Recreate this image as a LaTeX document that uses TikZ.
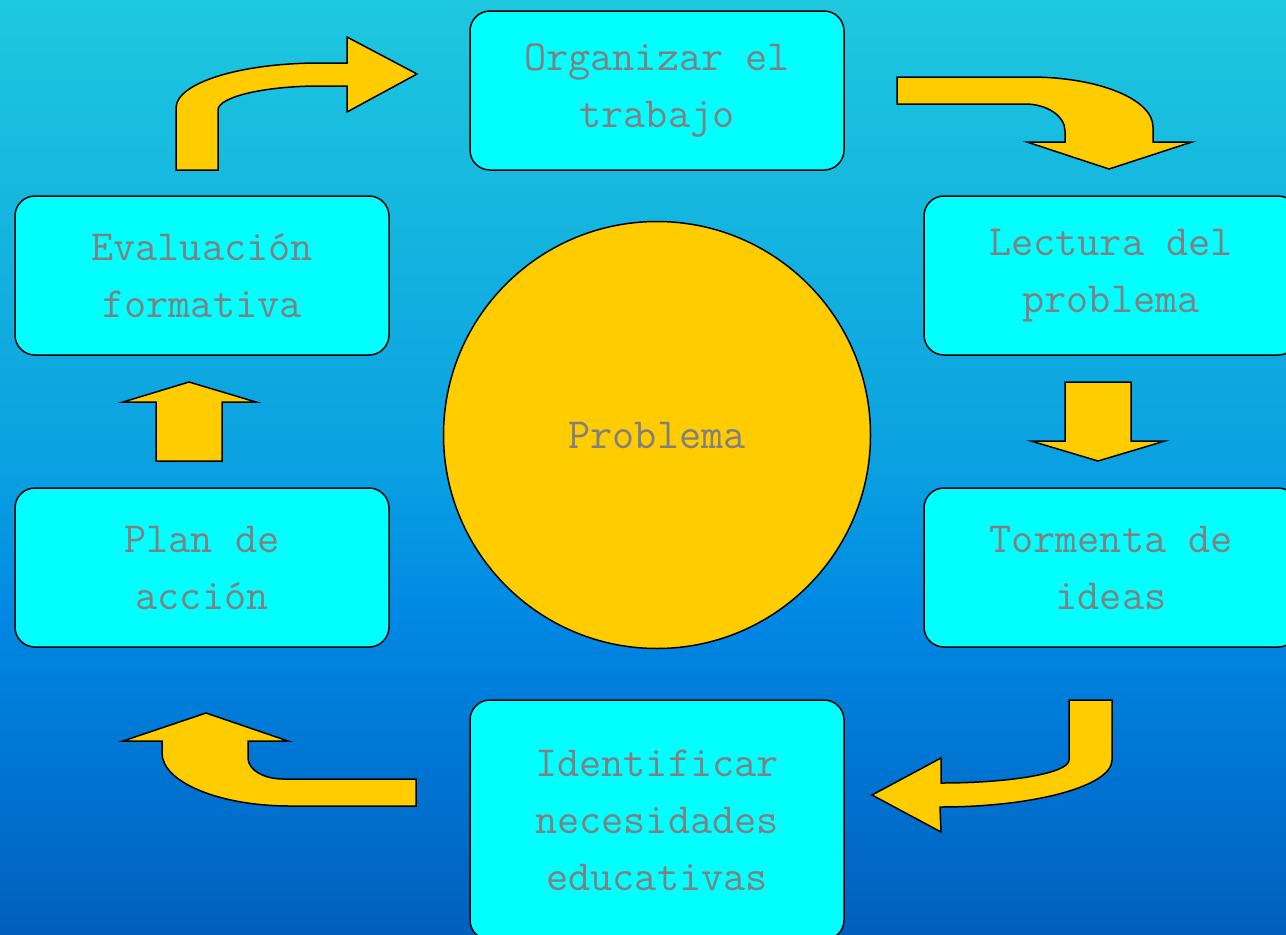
\documentclass[tikz,border=0pt]{standalone}
\usepackage{fontspec}
\definecolor{fondoarriba}{RGB}{30,200,222}
\definecolor{fondomedio}{RGB}{10,160,225}
\definecolor{fondoazul}{RGB}{0,136,228}
\definecolor{fondoabajo}{RGB}{0,95,190}
\definecolor{cian}{RGB}{0,255,255}
\definecolor{amarillo}{RGB}{255,204,0}
\definecolor{gris}{RGB}{128,128,128}
% tikz maps 25bp..75bp of the shading onto the path
\pgfdeclareverticalshading{fondo}{100bp}{color(0bp)=(fondoabajo); color(25bp)=(fondoabajo); color(42bp)=(fondoazul); color(50bp)=(fondomedio); color(75bp)=(fondoarriba); color(100bp)=(fondoarriba)}
\begin{document}
\begin{tikzpicture}[x=1pt,y=-1pt]
        \def\W{374}     %box width
        \def\H{159}     %box height
        \tikzset{
            etapa/.style={draw=black,line width=1.5pt,fill=cian,rounded corners=20pt,
                minimum width=\W pt,minimum height=\H pt,text=gris,align=center,
                font=\ttfamily\fontsize{43}{57}\selectfont},
            flecha/.style={draw=black,line width=1.5pt,fill=amarillo,line join=miter},
        }
        \useasboundingbox (0,0) rectangle (1286,935);
        \clip (0,0) rectangle (1286,935);
        \shade[shading=fondo] (0,0) rectangle (1286,935);
        % the steps
        \node[etapa] (organizar) at (657,90.5) {Organizar el\\trabajo};
        \node[etapa] (lectura) at (1111,275.5) {Lectura del\\problema};
        \node[etapa] (tormenta) at (1111,567.5) {Tormenta de\\ideas};
        \node[etapa,minimum height=240pt] (identificar) at (657,820) {Identificar\\necesidades\\educativas};
        \node[etapa] (plan) at (202,567.5) {Plan de\\acción};
        \node[etapa] (evaluacion) at (202,275.5) {Evaluación\\formativa};
        \node[etapa,circle,fill=amarillo,minimum size=427pt] (problema) at (657,435) {Problema};
        % block arrows
        \draw[flecha] (176,170) -- (176,108) .. controls (176,83) and (240,63) .. (320,63) -- (347,63)
            -- (347,37) -- (417,74) -- (347,112) -- (347,86) -- (320,86)
            .. controls (264,86) and (218,97) .. (218,110) -- (218,170) -- cycle;
        \draw[flecha] (897,77) -- (1030,77) .. controls (1098,77) and (1153,99) .. (1153,127) -- (1153,142)
            -- (1192,142) -- (1109,169) -- (1027,142) -- (1065,142) -- (1065,131)
            .. controls (1065,116) and (1047,104) .. (1025,104) -- (897,104) -- cycle;
        \draw[flecha] (1065,382) -- (1131,382) -- (1131,441) -- (1165,441) -- (1098,461) -- (1031,441) -- (1065,441) -- cycle;
        \draw[flecha] (1069,700) -- (1112,700) -- (1112,760) .. controls (1112,786) and (1035,807) .. (940,807)
            -- (941,832) -- (872,795) -- (941,758) -- (941,783)
            .. controls (1011,783) and (1069,773) .. (1069,760) -- cycle;
        \draw[flecha] (416,806) -- (290,806) .. controls (219,806) and (162,782) .. (162,753) -- (162,741)
            -- (123,741) -- (206,713) -- (288,741) -- (248,741) -- (248,758)
            .. controls (248,770) and (264,779) .. (283,779) -- (416,779) -- cycle;
        \draw[flecha] (156,461) -- (222,461) -- (222,402) -- (256,402) -- (189,382) -- (123,402) -- (156,402) -- cycle;
    \end{tikzpicture}
\end{document}
